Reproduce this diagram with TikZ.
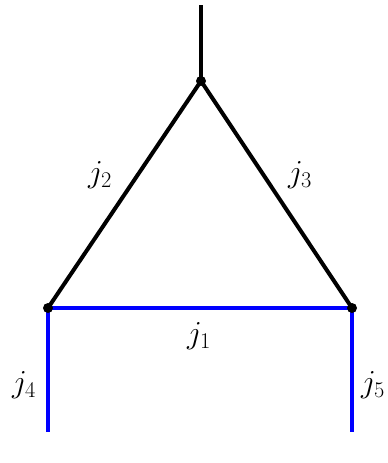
\RequirePackage{fix-cm}
\documentclass[tikz,border=0pt]{standalone}
\begin{document}
\begin{tikzpicture}[x=1pt,y=-1pt,
  blk/.style={line width=4pt,black},
  blu/.style={line width=4.3pt,blue},
  vdot/.style={circle,fill=black,inner sep=0pt,minimum size=10pt},
  lab/.style={font=\fontsize{32}{36}\selectfont}]
\useasboundingbox (0,0) rectangle (388,463);
\coordinate (top) at (201,5);
\coordinate (a) at (201,81);
\coordinate (b) at (48,308);
\coordinate (c) at (352,308);
\coordinate (bl) at (48,432);
\coordinate (br) at (352,432);
\draw[blu] (b) -- (c);
\draw[blu] (b) -- (bl);
\draw[blu] (c) -- (br);
\draw[blk] (top) -- (a);
\draw[blk] (a) -- (b);
\draw[blk] (a) -- (c);
\node[vdot] (na) at (a) {};
\node[vdot] (nb) at (b) {};
\node[vdot] (nc) at (c) {};
\node[lab] (l2) at (100,175) {$j_2$};
\node[lab] (l3) at (300,175) {$j_3$};
\node[lab] (l1) at (199,336) {$j_1$};
\node[lab] (l4) at (24,385) {$j_4$};
\node[lab] (l5) at (373,385) {$j_5$};
\end{tikzpicture}
\end{document}
